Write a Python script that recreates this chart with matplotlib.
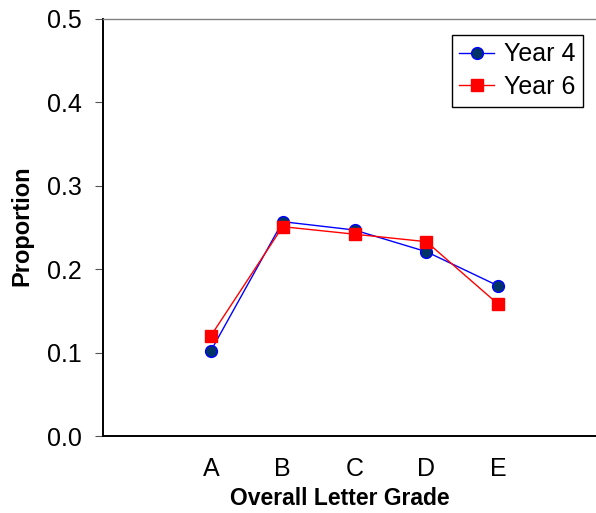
import matplotlib
matplotlib.use('Agg')
import matplotlib.pyplot as plt

plt.rcParams['font.family'] = ['Liberation Sans', 'DejaVu Sans']

grades = ['A', 'B', 'C', 'D', 'E']
year4 = [0.102, 0.257, 0.247, 0.221, 0.180]
year6 = [0.120, 0.251, 0.242, 0.233, 0.158]
yticks = [0.0, 0.1, 0.2, 0.3, 0.4, 0.5]

xpos = list(range(1, len(grades) + 1))

fig = plt.figure(figsize=(5.96, 5.13), dpi=100)
ax = fig.add_axes([0.1728, 0.150, 0.8272, 0.813])

ax.plot(xpos, year4, color='#0000ff', lw=1.0, marker='o', ms=8.5,
        mfc='#003366', mec='#0000ff', mew=1.0, label='Year 4')
ax.plot(xpos, year6, color='#ff0000', lw=1.0, marker='s', ms=8.5,
        mfc='#ff0000', mec='#ff0000', label='Year 6')

ax.set_xlim(-0.5, 6.36)
ax.set_ylim(0, 0.5)
ax.set_yticks(yticks)
ax.set_yticklabels([f'{v:.1f}' for v in yticks])
ax.set_xticks(xpos)
ax.set_xticklabels(grades)

ax.tick_params(axis='y', direction='out', length=6, width=0.8, color='#555555',
               labelsize=18, pad=9)
ax.tick_params(axis='x', length=0, labelsize=18, pad=15)

for side in ['left', 'bottom']:
    ax.spines[side].set_color('black')
    ax.spines[side].set_linewidth(1.4)
ax.spines['top'].set_color('#808080')
ax.spines['top'].set_linewidth(1.0)
ax.spines['right'].set_visible(False)

ax.set_xlabel('Overall Letter Grade', fontsize=16.5, fontweight='bold')
ax.set_ylabel('Proportion', fontsize=17, fontweight='bold')
ax.xaxis.set_label_coords(0.481, -0.122)
ax.yaxis.set_label_coords(-0.142, 0.505)

leg = ax.legend(loc='upper right', bbox_to_anchor=(0.974, 0.962), borderaxespad=0,
                fontsize=18, fancybox=False, framealpha=1, edgecolor='black',
                handlelength=1.4, handletextpad=0.4, labelspacing=0.35,
                borderpad=0.3)
leg.get_frame().set_linewidth(1.0)

fig.savefig('out.png', dpi=100)
